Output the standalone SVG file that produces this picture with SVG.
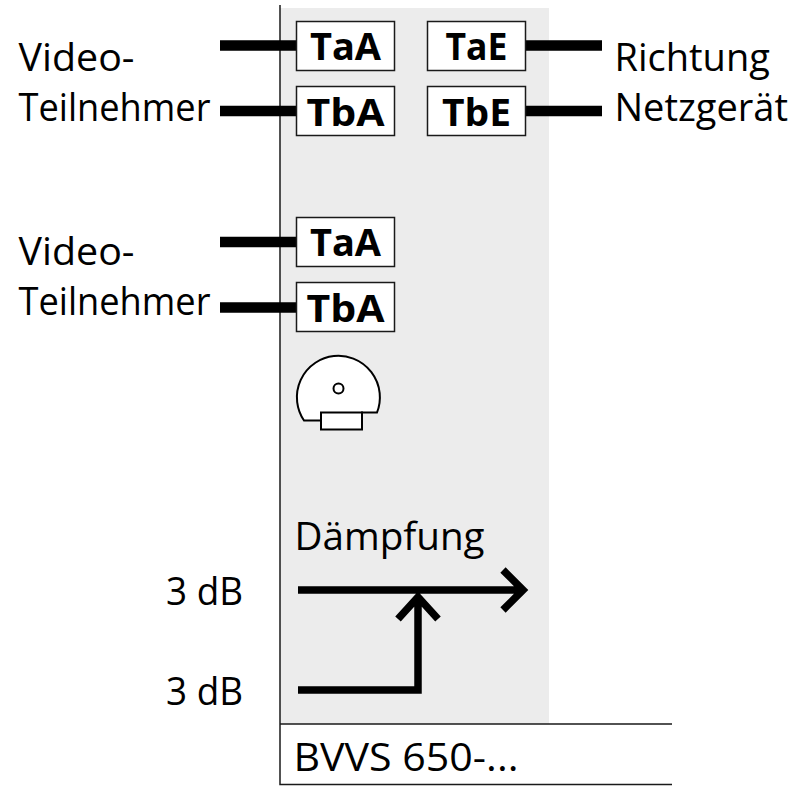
<svg xmlns="http://www.w3.org/2000/svg" width="796" height="791" viewBox="0 0 796 791">
<style>
text{font-family:"Open Sans","Noto Sans","Liberation Sans",sans-serif;fill:#000}
.l{font-size:38px}
.b{font-size:38px;font-weight:700;text-anchor:middle}
.box{fill:#fff;stroke:#1a1a1a;stroke-width:1.5}
.w{fill:none;stroke:#000;stroke-width:10.500}
.a{fill:none;stroke:#000;stroke-width:7.500}
.t{fill:none;stroke:#1a1a1a;stroke-width:1.5}
.s{fill:#fff;stroke:#000;stroke-width:2}
</style>
<rect x="280" y="8" width="269" height="716" fill="#ececec"/>
<g id="frame">
<path class="t" d="M280 5V784.500H672M280 724H672"/>
</g>
<g id="connectors">
<path class="w" d="M220 45.500H297M220 111H297M525 45.500H602M525 111H602M220 242H297M220 307.500H297"/>
<path class="a" d="M298 590H522M503 570L523 590L503 610M298 690H418V596M398 619L418 597L438 619"/>
</g>
<g id="node-taa1"><rect class="box" x="296.500" y="21.500" width="98" height="49"/><text class="b" x="345.500" y="60">TaA</text></g>
<g id="node-tba1"><rect class="box" x="296.500" y="86.500" width="98" height="49"/><text class="b" x="345.500" y="126" textLength="78" lengthAdjust="spacingAndGlyphs">TbA</text></g>
<g id="node-tae"><rect class="box" x="427.500" y="21.500" width="98" height="49"/><text class="b" x="476.500" y="60" textLength="62" lengthAdjust="spacingAndGlyphs">TaE</text></g>
<g id="node-tbe"><rect class="box" x="427.500" y="86.500" width="98" height="49"/><text class="b" x="476.500" y="126" textLength="69" lengthAdjust="spacingAndGlyphs">TbE</text></g>
<g id="node-taa2"><rect class="box" x="296.500" y="217.500" width="98" height="49"/><text class="b" x="345.500" y="256">TaA</text></g>
<g id="node-tba2"><rect class="box" x="296.500" y="282.500" width="98" height="49"/><text class="b" x="345.500" y="322" textLength="78" lengthAdjust="spacingAndGlyphs">TbA</text></g>
<g id="dial">
<path class="s" d="M304 420.500A41.500 41.500 0 1 1 377 412.500H362V420.500Z"/>
<rect class="s" x="321" y="412.500" width="41" height="17"/>
<circle class="s" cx="338.500" cy="388.500" r="5"/>
</g>
<g id="labels">
<text class="l" x="18.500" y="71" textLength="116" lengthAdjust="spacingAndGlyphs">Video-</text>
<text class="l" x="18.500" y="121" textLength="192" lengthAdjust="spacingAndGlyphs">Teilnehmer</text>
<text class="l" x="18.500" y="265" textLength="116" lengthAdjust="spacingAndGlyphs">Video-</text>
<text class="l" x="18.500" y="315" textLength="192" lengthAdjust="spacingAndGlyphs">Teilnehmer</text>
<text class="l" x="614.500" y="71">Richtung</text>
<text class="l" x="614.500" y="121">Netzgerät</text>
<text class="l" x="294.500" y="550" textLength="190" lengthAdjust="spacingAndGlyphs">Dämpfung</text>
<text class="l" x="166" y="605" textLength="77" lengthAdjust="spacingAndGlyphs">3 dB</text>
<text class="l" x="166" y="705" textLength="77" lengthAdjust="spacingAndGlyphs">3 dB</text>
<text class="l" x="293.500" y="771" textLength="225" lengthAdjust="spacingAndGlyphs">BVVS 650-...</text>
</g>
</svg>
